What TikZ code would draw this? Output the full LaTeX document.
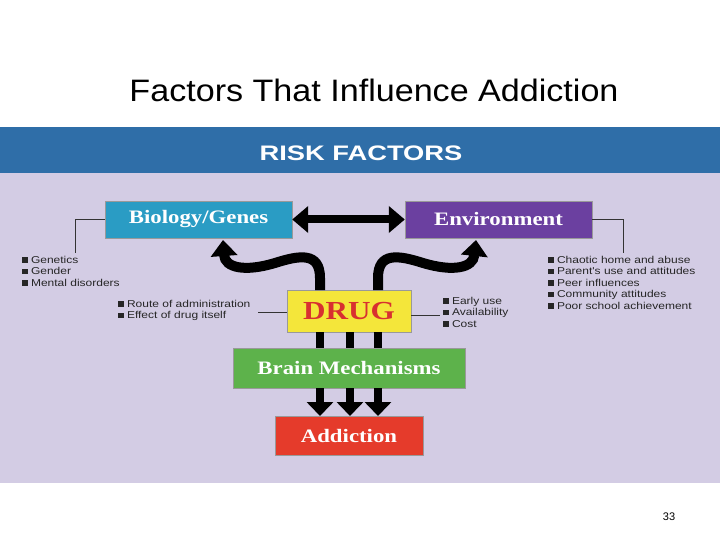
\documentclass[tikz,border=0pt]{standalone}
\usepackage{fontspec}
\setmainfont{Liberation Sans}
\newfontfamily\serifb[FakeStretch=1.2]{Liberation Serif}
\newfontfamily\widesans[FakeStretch=1.2]{Liberation Sans}
\newfontfamily\wideband[FakeStretch=1.3]{Liberation Sans}
\newfontfamily\titlefont[FakeStretch=1.1]{Liberation Sans}
\usetikzlibrary{arrows.meta}
\definecolor{band}{HTML}{2F6EA8}
\definecolor{panel}{HTML}{D3CCE4}
\definecolor{bio}{HTML}{2A9CC4}
\definecolor{env}{HTML}{6B40A0}
\definecolor{drugy}{HTML}{F4E63A}
\definecolor{drugr}{HTML}{D83030}
\definecolor{brain}{HTML}{5DB24B}
\definecolor{addc}{HTML}{E53B2B}
\newcommand\sq{\rule[0.1ex]{0.55em}{0.55em}\ }
\tikzset{
 box/.style={draw=black!40,minimum height=37pt,font=\serifb\bfseries\fontsize{19}{19}\selectfont,text=white,inner sep=0pt},
 bul/.style={font=\widesans\fontsize{10}{11.5}\selectfont,align=left,anchor=north west,inner sep=0pt,text=black!85},
 thin/.style={draw=black!80,line width=0.8pt},
 fat/.style={line width=10pt,-{Triangle[length=16pt,width=26pt]}},
}
\begin{document}
\begin{tikzpicture}[x=1pt,y=-1pt]
\useasboundingbox (0,0) rectangle (720,540);
\fill[white] (0,0) rectangle (720,540);
\node[font=\titlefont\fontsize{31}{31}\selectfont] (title) at (374,90) {Factors That Influence Addiction};
\fill[panel] (0,173) rectangle (720,483);
\fill[band] (0,127) rectangle (720,173);
\node[text=white,font=\wideband\bfseries\fontsize{21}{21}\selectfont] (risk) at (361,153) {RISK FACTORS};
\node[box,fill=bio,minimum width=187pt] (bio) at (198.5,219.5) {Biology/Genes};
\node[box,fill=env,minimum width=187pt] (env) at (498.5,219.5) {Environment};
\node[box,fill=drugy,text=drugr,minimum width=124pt,minimum height=42pt,font=\serifb\bfseries\fontsize{26}{26}\selectfont] (drug) at (349,311) {DRUG};
\node[box,fill=brain,minimum width=232pt,minimum height=40pt] (brain) at (349,368) {Brain Mechanisms};
\node[box,fill=addc,minimum width=148pt,minimum height=39pt] (add) at (349,435.5) {Addiction};
% double arrow
\draw[line width=8pt,{Triangle[length=16pt,width=26pt]}-{Triangle[length=16pt,width=26pt]}] (bio.east) -- (env.west);
% wavy arrows
\draw[fat] (320,290) -- (320,278) .. controls (320,252) and (300,255) .. (275,263) .. controls (245,272) and (225,268) .. (223,240);
\draw[fat] (378,290) -- (378,278) .. controls (378,252) and (398,255) .. (423,263) .. controls (453,272) and (473,268) .. (476,240);
% drug to brain bars
\foreach \x in {320,350,378} {
 \draw[line width=8pt] (\x,332) -- (\x,348);
 \draw[line width=8pt,-{Triangle[length=14pt,width=26pt]}] (\x,388) -- (\x,416);
}
% bullets
\node[bul] (lb) at (22,256) {\sq Genetics\\\sq Gender\\\sq Mental disorders};
\draw[thin] (bio.west) -- (75,219.5) -- (75,253);
\node[bul] (rb) at (118,300) {\sq Route of administration\\\sq Effect of drug itself};
\draw[thin] (258,312) -- (drug.west |- 0,312);
\node[bul] (eb) at (443,297) {\sq Early use\\\sq Availability\\\sq Cost};
\draw[thin] (drug.east |- 0,315) -- (440,315);
\node[bul] (envb) at (548,256) {\sq Chaotic home and abuse\\\sq Parent's use and attitudes\\\sq Peer influences\\\sq Community attitudes\\\sq Poor school achievement};
\draw[thin] (env.east) -- (623,219.5) -- (623,253);
\node[font=\fontsize{11}{11}\selectfont] (pg) at (669,517) {33};
\end{tikzpicture}
\end{document}
